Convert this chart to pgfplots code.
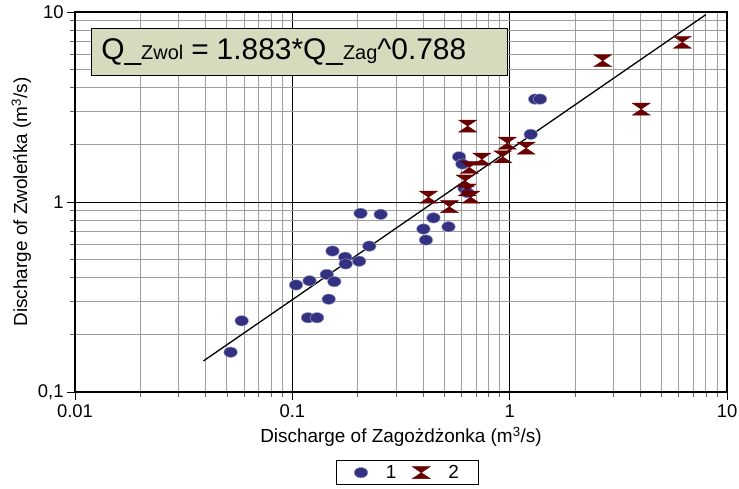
\documentclass[border=0pt]{standalone}
\usepackage{fontspec}
\setmainfont{Liberation Sans}
\usepackage{pgfplots}
\pgfplotsset{compat=1.18}
\definecolor{dotblue}{RGB}{52,50,128}
\definecolor{dotedge}{RGB}{150,150,200}
\definecolor{xred}{RGB}{104,0,0}
\definecolor{boxfill}{RGB}{215,219,190}
\pgfdeclareplotmark{oval}{%
  \pgfpathellipse{\pgfpointorigin}{\pgfqpoint{1.3\pgfplotmarksize}{0pt}}{\pgfqpoint{0pt}{\pgfplotmarksize}}%
  \pgfusepathqfillstroke}
\pgfdeclareplotmark{hourglass}{%
  \pgfpathmoveto{\pgfqpoint{-1.5\pgfplotmarksize}{\pgfplotmarksize}}%
  \pgfpathlineto{\pgfqpoint{1.5\pgfplotmarksize}{\pgfplotmarksize}}%
  \pgfpathlineto{\pgfqpoint{-1.5\pgfplotmarksize}{-\pgfplotmarksize}}%
  \pgfpathlineto{\pgfqpoint{1.5\pgfplotmarksize}{-\pgfplotmarksize}}%
  \pgfpathclose
  \pgfusepathqfillstroke}
\newcommand{\bigf}{\fontsize{30}{32}\selectfont}
\newcommand{\smlf}{\fontsize{20}{22}\selectfont}
\begin{document}
\begin{tikzpicture}
\begin{axis}[
  scale only axis, width=652bp, height=380bp,
  xmode=log, ymode=log,
  xmin=0.01, xmax=10, ymin=0.1, ymax=10,
  xtick={0.01,0.1,1,10}, xticklabels={0.01,0.1,1,10},
  ytick={0.1,1,10}, yticklabels={{0,1},1,10},
  /pgf/number format/assume math mode=true,
  grid=both,
  major grid style={black, line width=0.9bp},
  minor grid style={black!38, line width=1bp},
  axis line style={black, line width=1.2bp},
  tick align=outside,
  major tick length=8bp, minor tick length=5bp,
  tick style={black!60, line width=0.8bp},
  major tick style={black},
  xtick pos=bottom, ytick pos=left,
  every tick label/.append style={font=\fontsize{18.5}{20}\selectfont},
  xticklabel style={yshift=-1bp},
  label style={font=\fontsize{19}{21}\selectfont},
  xlabel style={yshift=-3bp},
  xlabel={Discharge of Zagożdżonka (m\textsuperscript{3}/s)},
  ylabel={Discharge of Zwoleńka (m\textsuperscript{3}/s)},
  legend columns=2,
  legend style={at={(0.51,-0.180)}, anchor=north, draw=black, line width=0.8bp,
    font=\fontsize{19}{21}\selectfont, inner xsep=18bp, inner ysep=2.5bp,
    /tikz/every odd column/.append style={column sep=16bp},
    /tikz/every even column/.append style={column sep=14bp}},
  legend cell align=left,
]
\coordinate (sw) at (rel axis cs:0,0);
\coordinate (ne) at (rel axis cs:1,1);
\addplot[only marks, mark=oval, mark size=5.2bp, mark options={fill=dotblue, draw=dotedge, line width=0.5bp}] coordinates {
(0.052,0.162) (0.0585,0.237) (0.104,0.366) (0.120,0.385) (0.118,0.246)
(0.130,0.246) (0.147,0.308) (0.144,0.416) (0.156,0.381) (0.153,0.552)
(0.175,0.512) (0.176,0.472) (0.203,0.488) (0.226,0.586) (0.206,0.872)
(0.255,0.861) (0.401,0.721) (0.412,0.631) (0.446,0.825) (0.523,0.741)
(0.585,1.73) (0.606,1.585) (0.62,1.18) (0.64,1.12)
(1.25,2.27) (1.31,3.48) (1.38,3.48)
};
\addlegendentry{1}
\addplot[only marks, mark=hourglass, mark size=6bp, mark options={fill=xred, draw=xred, line width=0.4bp}] coordinates {
(0.641,2.51) (0.975,2.04) (1.19,1.92) (0.929,1.73) (0.745,1.68)
(0.653,1.52) (0.624,1.29) (0.638,1.157) (0.662,1.06) (0.423,1.06)
(0.528,0.945) (6.23,6.93) (2.68,5.54) (4.03,3.08)
};
\addlegendentry{2}
\addplot[black, line width=1.3bp, no marks, forget plot] coordinates {(0.039,0.1457) (8.0,9.69)};
\node[anchor=north west, draw=black, line width=0.8bp, fill=boxfill,
  minimum height=47bp, text width=396bp, inner xsep=10bp, inner ysep=0bp, align=left]
  at (rel axis cs:0.0245,0.9579)
  {\bigf Q\_{\smlf Zwol}\hspace{8bp}=\hspace{8bp}1.883*Q\_{\smlf Zag}\^{}0.788};
\end{axis}
\pgfresetboundingbox
\path[use as bounding box] ([xshift=-75bp,yshift=-96bp]sw) rectangle ([xshift=12bp,yshift=12bp]ne);
\end{tikzpicture}
\end{document}
